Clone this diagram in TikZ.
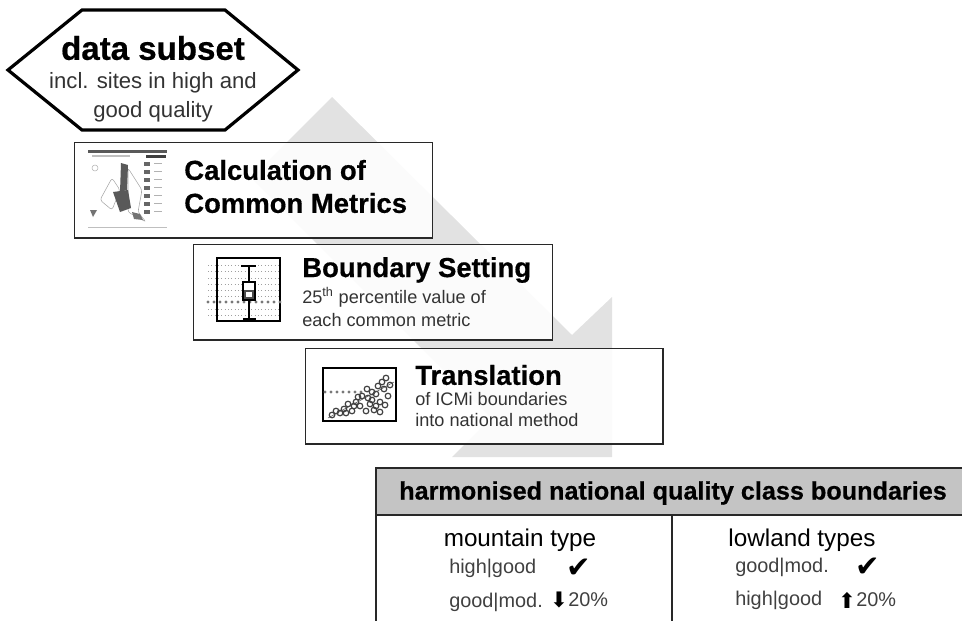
\documentclass[tikz,border=0pt]{standalone}
\usepackage{amsmath, amssymb}
\usepackage{xcolor}
\usepackage{fontspec}
\setmainfont{Liberation Sans}
\newfontfamily\symfont{DejaVu Sans}
\newfontfamily\heavyfont[FakeBold=0.5]{Liberation Sans Bold}
\usetikzlibrary{positioning, arrows.meta}
\definecolor{flowarrow}{RGB}{226, 226, 226}
\definecolor{flowhead}{RGB}{196, 196, 196}
\definecolor{flowline}{RGB}{40, 40, 40}
\definecolor{plotdot}{RGB}{120, 120, 120}
\tikzset{
    stepbox/.style={draw=flowline, line width=1pt, fill=white, fill opacity=0.88, anchor=north west, inner sep=0pt, minimum width=#1, minimum height=71.5pt},
    steptitle/.style={anchor=west, inner sep=0pt, align=left, font=\fontsize{20.6}{24.75}\heavyfont},
    stepsub/.style={anchor=north west, inner sep=0pt, align=left, text=black!80, font=\fontsize{13.6}{16.5}\selectfont},
    typetitle/.style={inner sep=0pt, font=\fontsize{18.2}{20}\selectfont},
    typeline/.style={anchor=west, inner sep=0pt, text=black!75, font=\fontsize{14.9}{16}\selectfont},
    typemark/.style={inner sep=0pt, font=\fontsize{22}{24}\symfont},
    typearrow/.style={inner sep=0pt, font=\fontsize{16}{18}\symfont},
    plotframe/.style={draw=black, line width=1.6pt},
    plotdots/.style={draw=plotdot!70, dotted, line width=0.5pt},
    plotline/.style={draw=plotdot, line cap=round, dash pattern=on 0pt off 4.5pt, line width=2.6pt}
}
\begin{document}
\begin{tikzpicture}[x=0.75pt, y=-0.75pt]
    \useasboundingbox (0,0) rectangle (962,621);
    % arrow behind the steps
    \fill[flowarrow] (251,178) -- (332,97) -- (572,335) -- (612,297) -- (612,457) -- (452,457) -- (491,418) -- cycle;

    % first step
    \draw[black, line width=2.4pt, fill=white] (8,70) -- (82,10) -- (225,10) -- (298,70) -- (225,130) -- (82,130) -- cycle;
    \node[inner sep=0pt, font=\fontsize{24.8}{26}\heavyfont] (subsettitle) at (153,48) {data subset};
    \node[inner sep=0pt, align=center, text=black!80, font=\fontsize{16.6}{21.5}\selectfont] (subsettext) at (153,97) {incl. sites in high and\\good quality};

    % steps
    \node[stepbox=268.5pt] (calcbox) at (74,142) {};
    \node[stepbox=269pt] (boundbox) at (193,244) {};
    \node[stepbox=268pt] (transbox) at (305,348) {};

    \node[steptitle] (calctitle) at (184,186.5) {Calculation of\\Common Metrics};
    \node[steptitle] (boundtitle) at (302,270) {Boundary Setting};
    \node[stepsub, font=\fontsize{13.6}{17.25}\selectfont] (boundtext) at (302,287) {25\textsuperscript{th} percentile value of\\each common metric};
    \node[steptitle] (transtitle) at (415,375) {Translation};
    \node[stepsub, font=\fontsize{13.6}{16}\selectfont] (transtext) at (415,392) {of ICMi boundaries\\into national method};

    % map thumbnail
    \fill[black!65] (88,150) rectangle (167,153);
    \fill[black!25] (92,155) rectangle (130,157);
    \fill[black!75] (146,155) rectangle (166,158);
    \draw[black!30] (95,168) circle (3);
    \draw[black!35, rounded corners=2pt] (100,200) -- (112,178) -- (120,190) -- (112,210) -- cycle;
    \draw[black!35, rounded corners=2pt] (128,168) -- (142,190) -- (138,212) -- (146,222) -- (128,212) -- cycle;
    \fill[black!65] (121,163) -- (128,165) -- (127,190) -- (120,192) -- cycle;
    \fill[black!65] (113,192) -- (128,190) -- (131,208) -- (120,212) -- cycle;
    \fill[black!55] (90,210) -- (97,210) -- (93,217) -- cycle;
    \fill[black!55] (132,212) -- (140,214) -- (143,220) -- (134,219) -- cycle;
    \draw[black!25] (88,227) -- (167,227);
    \foreach \legendy in {162,170,178,186,194,202,210}
        \fill[black!60] (144,\legendy) rectangle (150,\legendy+4);
    \foreach \legendy in {163,171,179,187,195,203,211}
        \draw[black!30] (154,\legendy) -- (162,\legendy);

    % box plot thumbnail
    \foreach \gridy in {265,271,278,284,290,296,309,315}
        \draw[plotdots] (208,\gridy) -- (280,\gridy);
    \draw[plotframe] (217,258) rectangle (280,321);
    \draw[plotline] (208,302) -- (281,302);
    \draw[line width=1.4pt] (249,266) -- (249,282) (249,300) -- (249,319) (241,266) -- (256,266) (243,319) -- (256,319);
    \draw[line width=1.2pt, fill=white] (243,282) rectangle (255,300);
    \draw[line width=0.8pt, black!70] (245,291) rectangle (253,298);

    % scatter thumbnail
    \draw[plotframe, line width=1pt] (323,368) rectangle (396,421);
    \draw[plotline] (325,392) -- (363,392);
    \foreach \px/\py in {332/415, 336/411, 340/413, 344/409, 348/404, 352/411, 356/402, 360/406, 362/396, 366/411, 368/398, 372/392, 376/394, 378/386, 380/402, 384/389, 386/378, 388/396, 374/410, 380/412, 346/413, 354/406, 358/397, 370/404, 376/406, 382/382, 390/385, 367/389, 385/405, 372/400}
        \draw[black!75, line width=0.9pt] (\px,\py) circle (2.8);
    \draw[black!70] (328,418) -- (394,382);

    % result table
    \fill[flowhead] (376,468) rectangle (962,515);
    \draw[flowline, line width=1.1pt] (962,468) -- (376,468) -- (376,621);
    \draw[flowline, line width=1.1pt] (376,515) -- (962,515);
    \draw[flowline, line width=1.1pt] (672,515) -- (672,621);
    \node[inner sep=0pt, font=\fontsize{18.9}{20}\heavyfont] (tabletitle) at (673,493) {harmonised national quality class boundaries};
    \node[typetitle] (mountaintitle) at (520,540) {mountain type};
    \node[typeline] (mountainhigh) at (449,568) {high|good};
    \node[typeline] (mountaingood) at (449,602) {good|mod.};
    \node[typemark] (mountaincheck) at (579,568) {✔};
    \node[typearrow] (mountainarrow) at (559,600) {⬇};
    \node[typeline] (mountainpct) at (568,600) {20\%};
    \node[typetitle] (lowlandtitle) at (802,540) {lowland types};
    \node[typeline] (lowlandgood) at (735,567) {good|mod.};
    \node[typeline] (lowlandhigh) at (735,600) {high|good};
    \node[typemark] (lowlandcheck) at (868,567) {✔};
    \node[typearrow] (lowlandarrow) at (847,600) {⬆};
    \node[typeline] (lowlandpct) at (856,600) {20\%};
\end{tikzpicture}
\end{document}
